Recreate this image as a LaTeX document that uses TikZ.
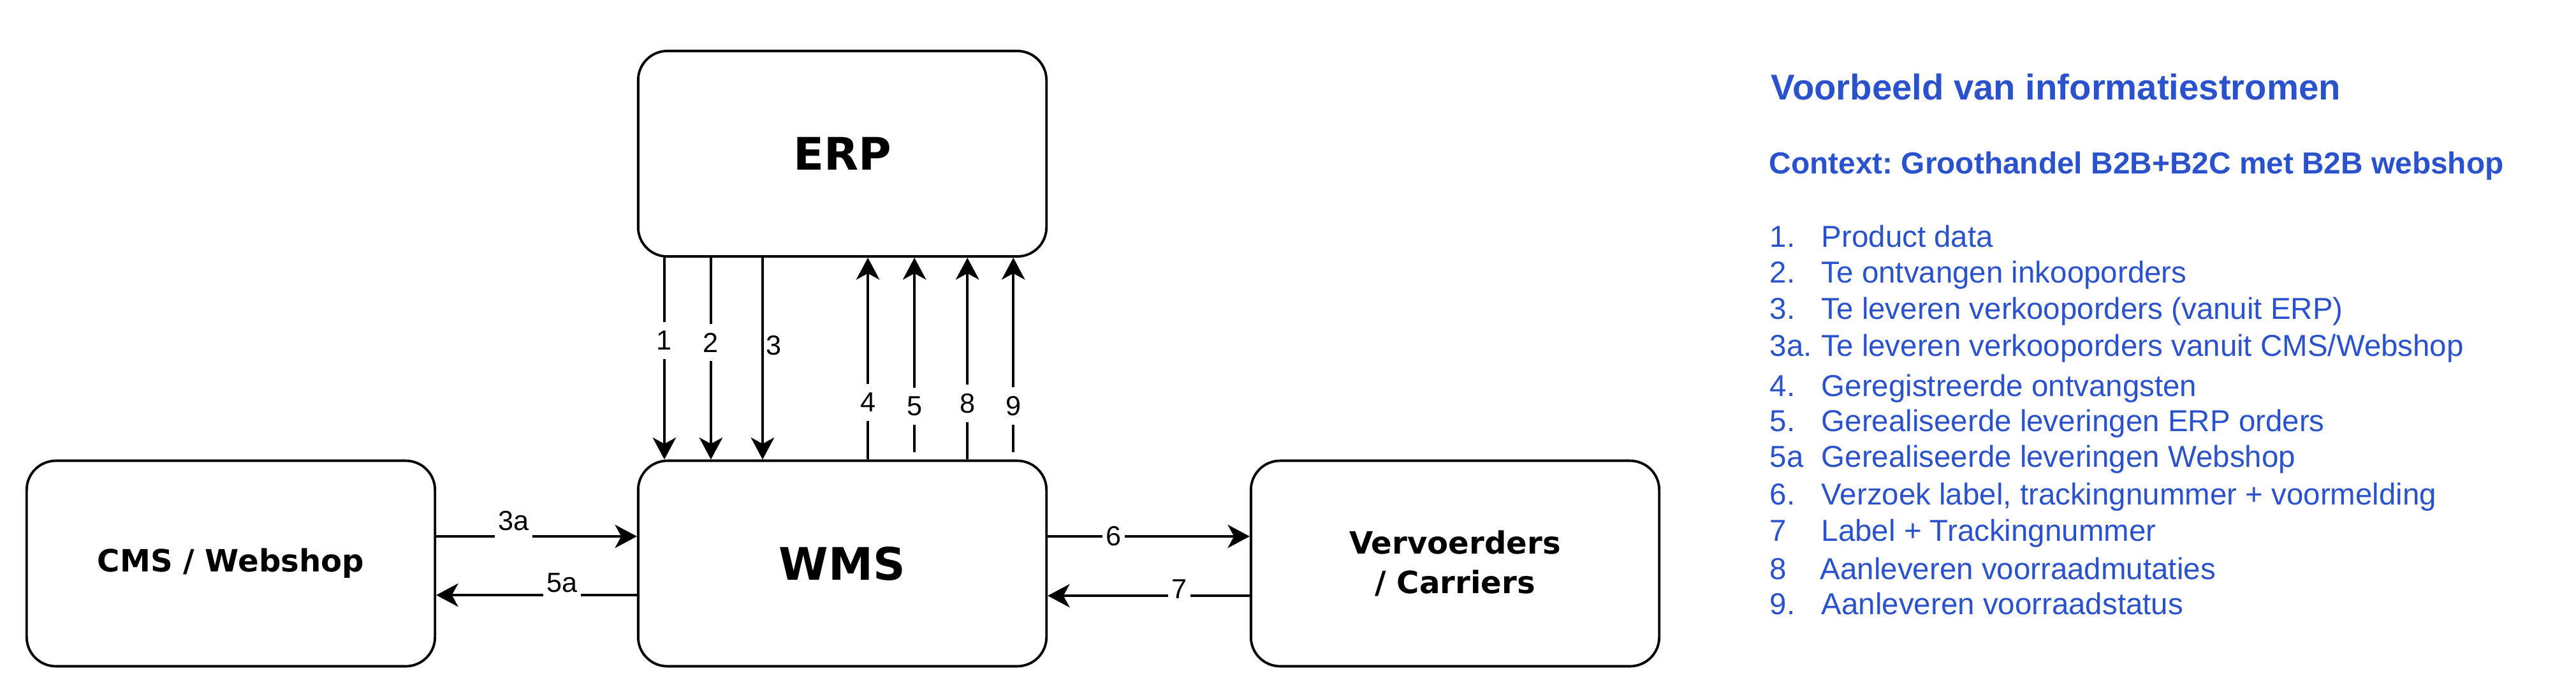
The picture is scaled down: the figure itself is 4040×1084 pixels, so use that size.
\documentclass[tikz,border=0pt]{standalone}
\usepackage{fontspec}
\setmainfont{Liberation Sans}
\newfontfamily\boxfont{DejaVu Sans}
\usetikzlibrary{arrows.meta,calc}
\definecolor{legblue}{RGB}{42,82,204}
\frenchspacing
\begin{document}
\begin{tikzpicture}[x=0.01cm,y=-0.01cm,
  sysbox/.style={draw, line width=1.1pt, rounded corners=13pt, minimum width=6.4cm, minimum height=3.22cm, inner sep=0pt, align=center},
  bigtxt/.style={font=\boxfont\bfseries\fontsize{20}{24}\selectfont},
  midtxt/.style={font=\boxfont\bfseries\fontsize{13.7}{17.4}\selectfont},
  arr/.style={line width=1pt, -{Stealth[length=9.8pt,width=10.4pt,inset=2.8pt]}},
  lbl/.style={fill=white, inner xsep=1.5pt, inner ysep=4pt, font=\fontsize{12.3}{14}\selectfont},
  lblup/.style={lbl, anchor=base, inner ysep=0pt, text depth=3.8pt},
  lblside/.style={fill=none, inner xsep=1pt, inner ysep=0pt, anchor=west, font=\fontsize{12.3}{14}\selectfont},
  ttl/.style={anchor=base west, inner sep=0pt, text=legblue, font=\bfseries\fontsize{16}{19}\selectfont},
  ctx/.style={anchor=base west, inner sep=0pt, text=legblue, font=\bfseries\fontsize{13.6}{16}\selectfont},
  itm/.style={anchor=base west, inner sep=0pt, text=legblue, font=\fontsize{13.5}{16}\selectfont}
]
\useasboundingbox (0,0) rectangle (4040,1084);

% systems
\node[sysbox,bigtxt] (erp) at (1321,241) {ERP};
\node[sysbox,bigtxt] (wms) at (1321,883.5) {WMS};
\node[sysbox,midtxt] (cms) at (362,883.5) {CMS / Webshop};
\node[sysbox,midtxt] (car) at (2282,883.5) {Vervoerders\\/ Carriers};

% ERP -> WMS
\draw[arr] ([xshift=0.43cm]erp.south west) -- ([xshift=0.43cm]wms.north west) node[lbl,pos=0.41] {1};
\draw[arr] ([xshift=1.16cm]erp.south west) -- ([xshift=1.16cm]wms.north west) node[lbl,pos=0.42] {2};
\draw[arr] ([xshift=1.97cm]erp.south west) -- ([xshift=1.97cm]wms.north west) node[lblside,pos=0.434] {3};

% WMS -> ERP
\draw[arr] ([xshift=3.62cm]wms.north west) -- ([xshift=3.62cm]erp.south west) node[lbl,pos=0.284] {4};
\draw[arr,shorten <=0.11cm] ([xshift=4.35cm]wms.north west) -- ([xshift=4.35cm]erp.south west) node[lbl,pos=0.264] {5};
\draw[arr] ([xshift=5.18cm]wms.north west) -- ([xshift=5.18cm]erp.south west) node[lbl,pos=0.278] {8};
\draw[arr,shorten <=0.11cm] ([xshift=5.90cm]wms.north west) -- ([xshift=5.90cm]erp.south west) node[lbl,pos=0.266] {9};

% CMS <-> WMS
\draw[arr] ([yshift=0.425cm]cms.east) -- ([yshift=0.425cm]wms.west) node[lblup,pos=0.386,yshift=0.09cm] {3a};
\draw[arr] ([yshift=-0.495cm]wms.west) -- ([yshift=-0.495cm]cms.east) node[lblup,pos=0.373,yshift=0.05cm] {5a};

% WMS <-> Carriers
\draw[arr] ([yshift=0.425cm]wms.east) -- ([yshift=0.425cm]car.west) node[lbl,pos=0.327] {6};
\draw[arr] ([yshift=-0.505cm]car.west) -- ([yshift=-0.505cm]wms.east) node[lbl,pos=0.349,yshift=0.1cm] {7};

% legend
\node[ttl] (title) at (2777,156) {Voorbeeld van informatiestromen};
\node[ctx] (context) at (2774,272) {Context: Groothandel B2B+B2C met B2B webshop};

\node[itm] (n1) at (2775,387) {1.};   \node[itm] (t1) at (2856,387) {Product data};
\node[itm] (n2) at (2775,443) {2.};   \node[itm] (t2) at (2856,443) {Te ontvangen inkooporders};
\node[itm] (n3) at (2775,500) {3.};   \node[itm] (t3) at (2856,500) {Te leveren verkooporders (vanuit ERP)};
\node[itm] (n3a) at (2775,558) {3a.}; \node[itm] (t3a) at (2856,558) {Te leveren verkooporders vanuit CMS/Webshop};
\node[itm] (n4) at (2775,621) {4.};   \node[itm] (t4) at (2856,621) {Geregistreerde ontvangsten};
\node[itm] (n5) at (2775,676) {5.};   \node[itm] (t5) at (2856,676) {Gerealiseerde leveringen ERP orders};
\node[itm] (n5a) at (2775,732) {5a};  \node[itm] (t5a) at (2856,732) {Gerealiseerde leveringen Webshop};
\node[itm] (n6) at (2775,791) {6.};   \node[itm] (t6) at (2856,791) {Verzoek label, trackingnummer + voormelding};
\node[itm] (n7) at (2775,848) {7};    \node[itm] (t7) at (2856,848) {Label + Trackingnummer};
\node[itm] (n8) at (2775,908) {8};    \node[itm] (t8) at (2854,908) {Aanleveren voorraadmutaties};
\node[itm] (n9) at (2775,963) {9.};   \node[itm] (t9) at (2856,963) {Aanleveren voorraadstatus};
\end{tikzpicture}
\end{document}
